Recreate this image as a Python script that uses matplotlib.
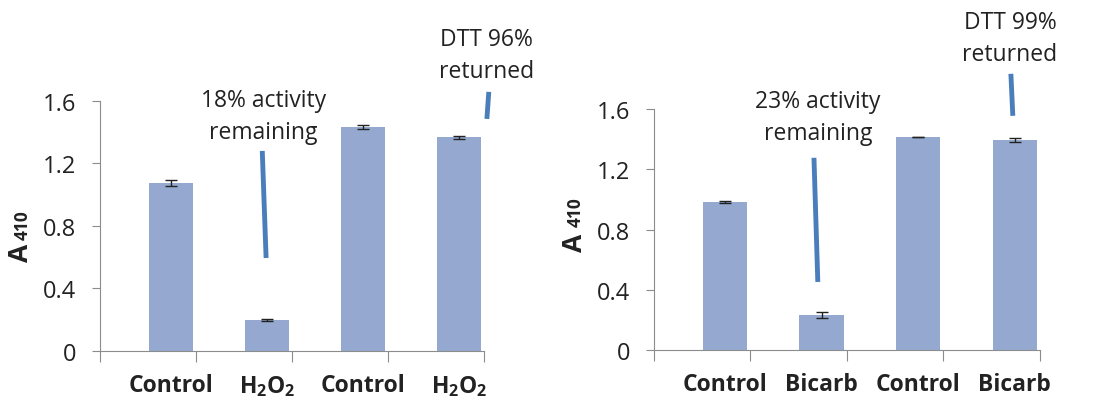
import matplotlib.pyplot as plt
import numpy as np

plt.rcParams['font.family'] = ['Open Sans', 'DejaVu Sans']
plt.rcParams['mathtext.fontset'] = 'custom'
plt.rcParams['mathtext.rm'] = 'Open Sans'
plt.rcParams['mathtext.bf'] = 'Open Sans:bold'

# ---- data ----
h2o2 = r'$\mathbf{H_2O_2}$'
left_labels = ['Control', h2o2, 'Control', h2o2]
left_vals = [1.073, 0.198, 1.432, 1.368]
left_err = [0.02, 0.004, 0.013, 0.01]

right_labels = ['Control', 'Bicarb', 'Control', 'Bicarb']
right_vals = [0.984, 0.232, 1.416, 1.396]
right_err = [0.005, 0.02, 0.002, 0.015]

# note text, text position, line start, line end
left_notes = [
    ('18% activity\nremaining', (1.70, 1.504), (1.69, 1.28), (1.73, 0.595)),
    ('DTT 96%\nreturned', (4.03, 1.894), (4.05, 1.658), (4.03, 1.485)),
]
right_notes = [
    ('23% activity\nremaining', (1.70, 1.546), (1.66, 1.277), (1.70, 0.452)),
    ('DTT 99%\nreturned', (3.69, 2.074), (3.70, 1.835), (3.72, 1.556)),
]

bar_color = '#95a9d0'
line_color = '#4a7ebb'
text_color = '#222222'
spine_color = '#8c8c8c'

fig = plt.figure(figsize=(10.97, 4.02), dpi=100)
ax1 = fig.add_axes([0.0912, 0.1244, 0.350, 0.622])
ax2 = fig.add_axes([0.5959, 0.1269, 0.352, 0.599])


def draw_panel(ax, labels, vals, err, notes):
    x = np.arange(len(vals)) + 0.74
    ax.bar(x, vals, width=0.46, color=bar_color, zorder=2)
    ax.errorbar(x, vals, yerr=err, fmt='none', ecolor='#222222',
                elinewidth=1, capsize=4, capthick=1, zorder=3)
    ax.set_xlim(0, 4)
    ax.set_ylim(0, 1.6)
    ax.set_yticks([0, 0.4, 0.8, 1.2, 1.6])
    ax.set_yticklabels(['0', '0.4', '0.8', '1.2', '1.6'])
    ax.set_xticks([0, 1, 2, 3, 4])
    ax.set_xticklabels([])
    ax.set_xticks(x, minor=True)
    ax.set_xticklabels(labels, minor=True, fontweight='bold', fontsize=16.5)
    ax.tick_params(axis='x', which='minor', length=0, pad=16, colors=text_color)
    ax.tick_params(axis='x', which='major', length=8, color=spine_color)
    ax.tick_params(axis='y', length=6, color=spine_color, pad=11,
                   labelsize=17, labelcolor=text_color)
    for s in ['top', 'right']:
        ax.spines[s].set_visible(False)
    for s in ['left', 'bottom']:
        ax.spines[s].set_color(spine_color)
    for txt, tpos, p0, p1 in notes:
        ax.text(tpos[0], tpos[1], txt, ha='center', va='center', fontsize=16.5,
                color=text_color, linespacing=1.45, clip_on=False)
        ax.plot([p0[0], p1[0]], [p0[1], p1[1]], color=line_color, lw=3.5,
                solid_capstyle='butt', clip_on=False, zorder=4)


draw_panel(ax1, left_labels, left_vals, left_err, left_notes)
draw_panel(ax2, right_labels, right_vals, right_err, right_notes)

# y-axis labels: A with smaller 410
for xa, ya, y4 in [(21, 262, 240), (574, 252, 227)]:
    fig.text(xa / 1097, 1 - ya / 402, 'A', rotation=90, ha='center', va='bottom',
             fontsize=19, fontweight='bold', color=text_color)
    fig.text((xa + 2) / 1097, 1 - y4 / 402, '410', rotation=90, ha='center',
             va='bottom', fontsize=12.5, fontweight='bold', color=text_color)

fig.savefig('out.png', dpi=100)
